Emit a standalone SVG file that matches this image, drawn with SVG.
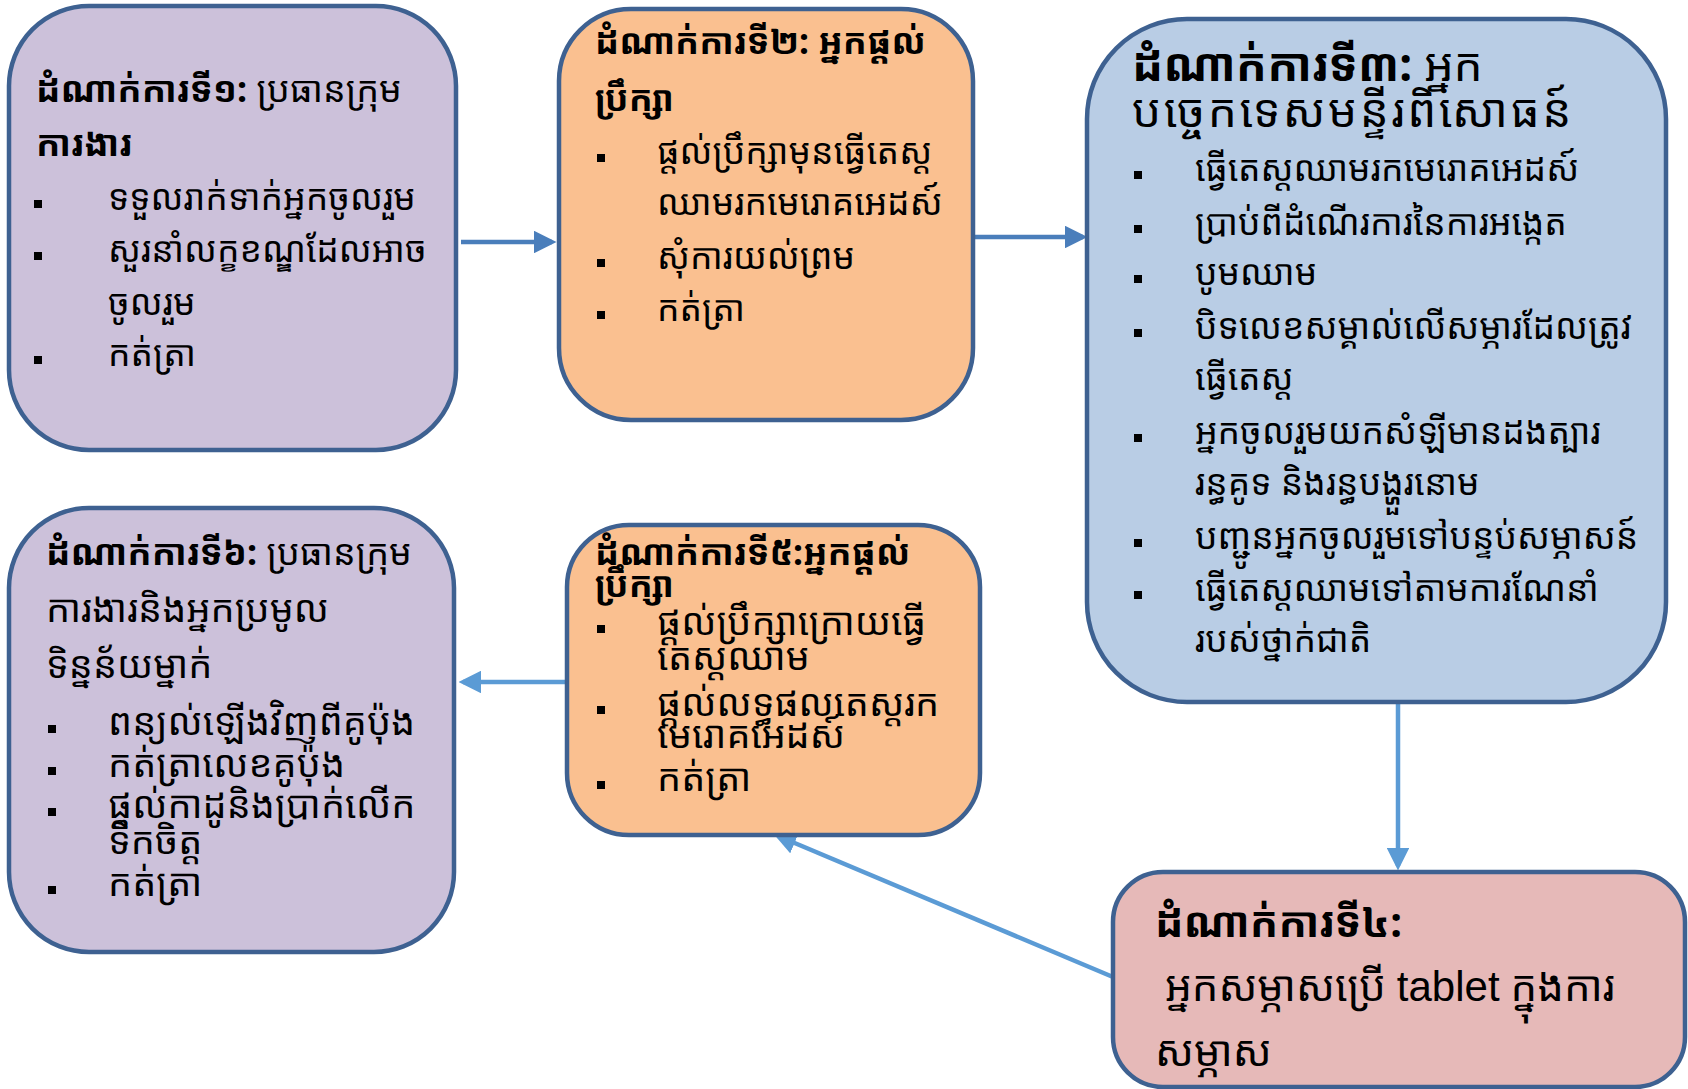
<svg xmlns="http://www.w3.org/2000/svg" width="1688" height="1089" viewBox="0 0 1688 1089">
<defs>
<style>
.box{stroke:#3e6191;stroke-width:4.5}
.p{fill:#ccc1da}.o{fill:#fac090}.b{fill:#b9cde5}.k{fill:#e6b9b8}
text{font-family:"Noto Sans Khmer","Khmer OS","Noto Sans","DejaVu Sans",sans-serif;fill:#000}
.tb{font-weight:bold}
.s36{font-size:36px}.s38{font-size:38px}.s35{font-size:35.5px}
.t3{font-size:46px}
.s42{font-size:42px}
.lat{font-family:"Liberation Sans",Arial,sans-serif}
.c1{stroke:#4a7ebb;stroke-width:4.5;fill:none}
.c2{stroke:#5b9bd5;stroke-width:4.5;fill:none}
.bl{fill:#000}
</style>
<marker id="a1" markerWidth="5" markerHeight="5" refX="4" refY="2.5" orient="auto" markerUnits="strokeWidth"><path d="M0,0 L5,2.5 L0,5 z" fill="#4a7ebb"/></marker>
<marker id="a2" markerWidth="5" markerHeight="5" refX="4" refY="2.5" orient="auto" markerUnits="strokeWidth"><path d="M0,0 L5,2.5 L0,5 z" fill="#5b9bd5"/></marker>
</defs>
<rect width="1688" height="1089" fill="#fff"/>
<g id="connectors">
<line class="c1" x1="461" y1="242" x2="552" y2="242" marker-end="url(#a1)"/>
<line class="c1" x1="975" y1="237" x2="1083" y2="237" marker-end="url(#a1)"/>
<line class="c2" x1="1398" y1="703" x2="1398" y2="866" marker-end="url(#a2)"/>
<line class="c2" x1="1113" y1="977" x2="778" y2="836" marker-end="url(#a2)"/>
<line class="c2" x1="567" y1="682" x2="463" y2="682" marker-end="url(#a2)"/>
</g>
<g id="step1">
<rect class="box p" x="9" y="6" width="447" height="444" rx="80"/>
<text class="s36" x="36" y="102"><tspan class="tb">ដំណាក់ការទី១:</tspan> ប្រធានក្រុម</text>
<text class="s36 tb" x="36" y="156">ការងារ</text>
<rect class="bl" x="34" y="200" width="8" height="8"/>
<text class="s35" x="108" y="210">ទទួលរាក់ទាក់អ្នកចូលរួម</text>
<rect class="bl" x="34" y="252" width="8" height="8"/>
<text class="s35" x="108" y="262">សួរនាំលក្ខខណ្ឌដែលអាច</text>
<text class="s35" x="108" y="315">ចូលរួម</text>
<rect class="bl" x="34" y="356" width="8" height="8"/>
<text class="s35" x="108" y="366">កត់ត្រា</text>
</g>
<g id="step2">
<rect class="box o" x="559" y="9" width="414" height="411" rx="72"/>
<text class="s35 tb" x="595" y="54">ដំណាក់ការទី២: អ្នកផ្ដល់</text>
<text class="s35 tb" x="595" y="111">ប្រឹក្សា</text>
<rect class="bl" x="597" y="154" width="8" height="8"/>
<text class="s35" x="657" y="164">ផ្ដល់ប្រឹក្សាមុនធ្វើតេស្ដ</text>
<text class="s35" x="657" y="215">ឈាមរកមេរោគអេដស៍</text>
<rect class="bl" x="597" y="259" width="8" height="8"/>
<text class="s35" x="657" y="269">សុំការយល់ព្រម</text>
<rect class="bl" x="597" y="311" width="8" height="8"/>
<text class="s35" x="657" y="321">កត់ត្រា</text>
</g>
<g id="step3">
<rect class="box b" x="1087" y="19" width="579" height="683" rx="100"/>
<text class="t3" x="1132" y="81"><tspan class="tb">ដំណាក់ការទី៣:</tspan> អ្នក</text>
<text class="t3" x="1132" y="127" letter-spacing="2.5">បច្ចេកទេសមន្ទីរពិសោធន៍</text>
<rect class="bl" x="1134" y="171" width="8" height="8"/>
<text class="s35" x="1195" y="181">ធ្វើតេស្ដឈាមរកមេរោគអេដស៍</text>
<rect class="bl" x="1134" y="225" width="8" height="8"/>
<text class="s35" x="1195" y="235">ប្រាប់ពីដំណើរការនៃការអង្កេត</text>
<rect class="bl" x="1134" y="275" width="8" height="8"/>
<text class="s35" x="1195" y="285">បូមឈាម</text>
<rect class="bl" x="1134" y="329" width="8" height="8"/>
<text class="s35" x="1195" y="339">បិទលេខសម្គាល់លើសម្ភារដែលត្រូវ</text>
<text class="s35" x="1195" y="390">ធ្វើតេស្ដ</text>
<rect class="bl" x="1134" y="434" width="8" height="8"/>
<text class="s35" x="1195" y="444">អ្នកចូលរួមយកសំឡីមានដងត្បារ</text>
<text class="s35" x="1195" y="495">រន្ធគូទ និងរន្ធបង្ហួរនោម</text>
<rect class="bl" x="1134" y="539" width="8" height="8"/>
<text class="s35" x="1195" y="549">បញ្ជូនអ្នកចូលរួមទៅបន្ទប់សម្ភាសន៍</text>
<rect class="bl" x="1134" y="591" width="8" height="8"/>
<text class="s35" x="1195" y="601">ធ្វើតេស្ដឈាមទៅតាមការណែនាំ</text>
<text class="s35" x="1195" y="652">របស់ថ្នាក់ជាតិ</text>
</g>
<g id="step4">
<rect class="box k" x="1113" y="872" width="572" height="215" rx="50"/>
<text class="s42 tb" x="1155" y="937">ដំណាក់ការទី៤:</text>
<text class="s42" x="1165" y="1001">អ្នកសម្ភាសប្រើ <tspan class="lat">tablet</tspan> ក្នុងការ</text>
<text class="s42" x="1155" y="1066">សម្ភាស</text>
</g>
<g id="step5">
<rect class="box o" x="567" y="525" width="413" height="310" rx="62"/>
<text class="s35 tb" x="595" y="565">ដំណាក់ការទី៥:អ្នកផ្ដល់</text>
<text class="s35 tb" x="595" y="597">ប្រឹក្សា</text>
<rect class="bl" x="597" y="625" width="8" height="8"/>
<text class="s38" x="657" y="635">ផ្ដល់ប្រឹក្សាក្រោយធ្វើ</text>
<text class="s38" x="657" y="670">តេស្ដឈាម</text>
<rect class="bl" x="597" y="706" width="8" height="8"/>
<text class="s38" x="657" y="716">ផ្ដល់លទ្ធផលតេស្ដរក</text>
<text class="s38" x="657" y="748">មេរោគអេដស៍</text>
<rect class="bl" x="597" y="781" width="8" height="8"/>
<text class="s38" x="657" y="791">កត់ត្រា</text>
</g>
<g id="step6">
<rect class="box p" x="9" y="508" width="445" height="444" rx="80"/>
<text class="s36" x="46" y="565"><tspan class="tb">ដំណាក់ការទី៦:</tspan> ប្រធានក្រុម</text>
<text class="s38" x="46" y="622">ការងារនិងអ្នកប្រមូល</text>
<text class="s38" x="46" y="678">ទិន្នន័យម្នាក់</text>
<rect class="bl" x="48" y="725" width="8" height="8"/>
<text class="s38" x="108" y="735">ពន្យល់ឡើងវិញពីគូប៉ុង</text>
<rect class="bl" x="48" y="767" width="8" height="8"/>
<text class="s38" x="108" y="777">កត់ត្រាលេខគូប៉ុង</text>
<rect class="bl" x="48" y="808" width="8" height="8"/>
<text class="s38" x="108" y="818">ផ្ដល់កាដូនិងប្រាក់លើក</text>
<text class="s38" x="108" y="854">ទឹកចិត្ត</text>
<rect class="bl" x="48" y="886" width="8" height="8"/>
<text class="s38" x="108" y="896">កត់ត្រា</text>
</g>
</svg>
